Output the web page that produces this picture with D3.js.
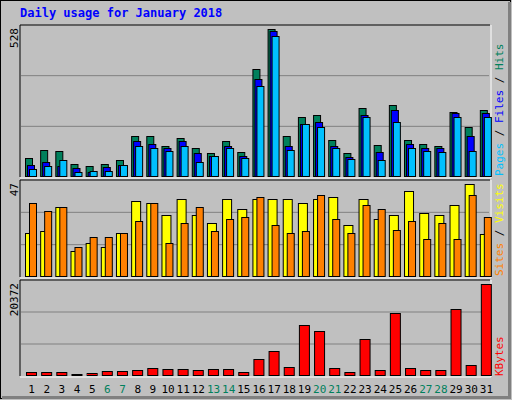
<!DOCTYPE html>
<html><head><meta charset="utf-8">
<script src="https://cdn.jsdelivr.net/npm/d3@7"></script>
<style>body{margin:0;background:#fff}svg text{font-family:"DejaVu Sans Mono",monospace}</style>
</head><body><svg id="c" width="512" height="400"></svg>
<script>
// chart data
var days = d3.range(1, 32);
var weekend = [6, 7, 13, 14, 20, 21, 27, 28];
var hits = [67,98,94,48,41,48,59,145,145,112,141,105,87,130,91,385,528,145,216,220,134,87,248,116,256,134,119,112,234,180,238];
var files = [44,55,41,33,19,37,44,130,119,102,130,87,76,109,76,352,521,112,188,195,109,73,223,91,238,119,105,102,227,148,227];
var pages = [30,41,59,19,23,23,44,112,105,94,112,55,76,102,69,324,503,98,188,177,105,66,213,59,198,105,94,91,216,94,213];
var visits = [22.5,23.5,35.3,13.3,17.4,15.3,22.5,38.3,37.3,31.2,39.3,31.2,27.1,39.3,34.2,39.3,39.3,39.3,37.3,39.3,40.4,26.1,39.3,29.1,31.2,43.4,32.2,31.2,36.3,47,21.5];
var sites = [37.3,33.2,35.3,15.3,20.4,20.4,22.5,28.1,37.3,17.4,27.1,35.3,23.5,29.1,30.1,40.4,26.1,22.5,23.5,41.4,29.1,22.5,36.3,34.2,24,28.1,19.4,27.1,19.4,41.4,30.1];
var kbytes = [967,967,967,520,743,1190,1190,1413,1859,1636,1636,1413,1636,1636,967,3866,5651,2082,11227,9889,1859,967,8327,1413,13904,1859,1413,1413,14796,2528,20372];

var svg = d3.select("#c");
var left = 20, right = 490;

// background and frame
svg.append("rect").attr("x", 0).attr("y", 0).attr("width", 512).attr("height", 400).attr("fill", "#c0c0c0");
svg.append("rect").attr("x", 0.5).attr("y", 0.5).attr("width", 510).attr("height", 398)
  .attr("fill", "none").attr("stroke", "#000");
svg.append("path").attr("d", "M2,397.5H509.5V2").attr("fill", "none").attr("stroke", "#808080").attr("stroke-width", 3);

svg.append("text").attr("x", 20).attr("y", 17).attr("fill", "#0000ff")
  .attr("font-size", 12).attr("font-weight", "bold").text("Daily usage for January 2018");

var x = d3.scaleBand().domain(days).range([left, right]).padding(0);

function panel(top, bottom, maxVal, maxFrac) {
  svg.append("path").attr("d", "M" + left + "," + bottom + "V" + top + "H" + right)
    .attr("fill", "none").attr("stroke", "#000");
  svg.append("path").attr("d", "M" + left + "," + (bottom + 1) + "H" + (right + 1) + "V" + top)
    .attr("fill", "none").attr("stroke", "#fff");
  var h = bottom - top;
  [1, 2].forEach(function (k) {
    var gy = bottom - h * k / 3;
    svg.append("line").attr("x1", left + 1).attr("x2", right - 1).attr("y1", gy).attr("y2", gy)
      .attr("stroke", "#808080");
  });
  var y = d3.scaleLinear().domain([0, maxVal / maxFrac]).range([bottom, top]);
  svg.append("text").attr("transform", "translate(18," + (top + 3) + ") rotate(-90)")
    .attr("text-anchor", "end").attr("font-size", 11).attr("fill", "#000").text(maxVal);
  return y;
}

function bars(data, y, off, w, fill) {
  svg.append("g").selectAll("rect").data(data).enter().append("rect")
    .attr("x", function (d, i) { return x(days[i]) + off + 0.5; })
    .attr("y", function (d) { return Math.round(y(d)) + 0.5; })
    .attr("width", w)
    .attr("height", function (d) { return Math.max(0, y(0) - Math.round(y(d)) - 1); })
    .attr("fill", fill).attr("stroke", "#000");
}

var y1 = panel(25, 177, 528, 0.972);
bars(hits, y1, 5, 7, "#00805c");
bars(files, y1, 7, 7, "#0000ff");
bars(pages, y1, 9, 7, "#00c0ff");

var y2 = panel(180, 277, 47, 0.958);
bars(visits, y2, 5, 9, "#ffff00");
bars(sites, y2, 9, 7, "#ff8000");

var y3 = panel(280, 376, 20372, 0.955);
bars(kbytes, y3, 6, 10, "#ff0000");

// day labels
svg.append("g").selectAll("text").data(days).enter().append("text")
  .attr("x", function (d) { return x(d) + x.bandwidth() / 2 + 4; })
  .attr("y", 393).attr("text-anchor", "middle").attr("font-size", 11)
  .attr("fill", function (d) { return weekend.indexOf(d) >= 0 ? "#00805c" : "#000"; })
  .text(function (d) { return d; });

// right-side legends, rotated
function legend(yBottom, parts) {
  var t = svg.append("text").attr("transform", "translate(503," + yBottom + ") rotate(-90)")
    .attr("font-size", 11);
  parts.forEach(function (p) { t.append("tspan").attr("fill", p[1]).text(p[0]); });
}
legend(176, [["Pages", "#00c0ff"], [" / ", "#000"], ["Files", "#0000ff"], [" / ", "#000"], ["Hits", "#00805c"]]);
legend(276, [["Sites", "#ff8000"], [" / ", "#000"], ["Visits", "#ffff00"]]);
legend(376, [["KBytes", "#ff0000"]]);
</script></body></html>
